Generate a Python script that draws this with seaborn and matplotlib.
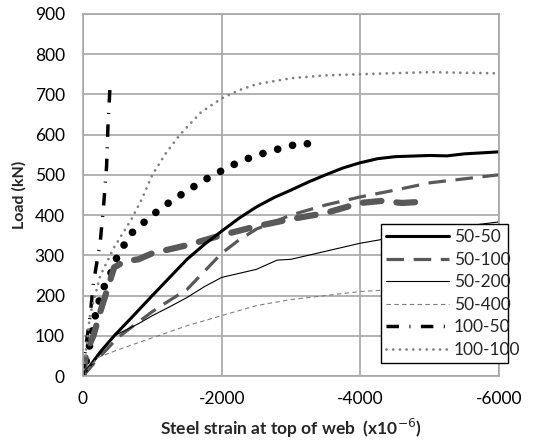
import matplotlib
matplotlib.use("Agg")
import matplotlib.pyplot as plt
import seaborn as sns
from matplotlib.lines import Line2D

# strain (x10^-6, compressive negative) and load (kN) per specimen
x_50_50 = [0, -100, -250, -450, -700, -1000, -1250, -1500, -1750, -2000, -2250, -2500, -2750, -3000,
           -3250, -3500, -3750, -4000, -4250, -4500, -5000, -5250, -5500, -6000]
y_50_50 = [0, 25, 60, 100, 145, 200, 245, 290, 327, 360, 392, 420, 443, 462,
           482, 500, 517, 530, 540, 545, 548, 547, 552, 557]

x_50_100 = [0, -200, -500, -750, -1000, -1250, -1500, -1750, -2000, -2250, -2500, -3000, -3500, -4000,
            -4500, -5000, -5500, -6000]
y_50_100 = [0, 40, 95, 128, 160, 188, 215, 260, 305, 338, 365, 400, 425, 445, 462, 480, 490, 500]

x_50_200 = [0, -450, -800, -1000, -1250, -1500, -1750, -2000, -2500, -2800, -3000, -3500, -4000,
            -4500, -5000, -5500, -6000]
y_50_200 = [0, 100, 130, 150, 172, 195, 222, 245, 265, 288, 290, 310, 330, 345, 360, 372, 383]

x_50_400 = [0, -200, -500, -1000, -1500, -2000, -2500, -3000, -3500, -4000, -4500, -5000, -6000]
y_50_400 = [0, 45, 65, 95, 125, 150, 175, 190, 200, 210, 215, 220, 230]

x_100_50 = [0, -30, -100, -150, -250, -300, -340, -360, -390]
y_100_50 = [0, 60, 145, 230, 335, 430, 520, 620, 720]

x_100_100 = [0, -100, -250, -450, -700, -850, -1000, -1200, -1400, -1700, -2000, -2250, -2500,
             -3000, -3500, -4000, -5000, -6000]
y_100_100 = [0, 150, 250, 320, 390, 440, 500, 555, 600, 655, 690, 710, 725, 740, 747, 750, 755, 752]

# two extra curves drawn without legend entries
x_dots = [0, -100, -200, -300, -400, -500, -700, -1000, -1250, -1500, -1750, -2000, -2250, -2500,
          -2750, -3000, -3150, -3300]
y_dots = [0, 80, 170, 220, 255, 300, 355, 400, 432, 460, 487, 510, 532, 548, 561, 572, 580, 575]

x_thick = [0, -50, -150, -250, -350, -450, -600, -800, -1000, -1500, -2000, -2500, -3000, -3500,
           -4000, -4300, -4600, -4800]
y_thick = [0, 60, 100, 160, 215, 270, 285, 290, 305, 325, 350, 372, 390, 405, 430, 435, 430, 432]

sns.set_style("white")
plt.rcParams['font.family'] = ['Lato', 'DejaVu Sans']
plt.rcParams['axes.unicode_minus'] = False

fig = plt.figure(figsize=(5.46, 4.45), dpi=100)
ax = fig.add_axes([0.152, 0.155, 0.762, 0.814])

grey_dark = '#595959'
grey_mid = '#808080'

sns.lineplot(x=x_dots, y=y_dots, ax=ax, sort=False, estimator=None, color='black',
             linewidth=5.5, linestyle=(0, (0.01, 2.0)), dash_capstyle='round')
sns.lineplot(x=x_thick, y=y_thick, ax=ax, sort=False, estimator=None, color=grey_dark,
             linewidth=4.5, linestyle=(0, (3.0, 2.4)), dash_capstyle='round')

styles = [
    ('50-50', x_50_50, y_50_50, dict(color='black', linewidth=2.2, linestyle='-')),
    ('50-100', x_50_100, y_50_100, dict(color=grey_dark, linewidth=2.3, linestyle=(0, (5.5, 3.0)))),
    ('50-200', x_50_200, y_50_200, dict(color='black', linewidth=0.8, linestyle='-')),
    ('50-400', x_50_400, y_50_400, dict(color=grey_mid, linewidth=0.8, linestyle=(0, (4, 3)))),
    ('100-50', x_100_50, y_100_50, dict(color='black', linewidth=2.5, linestyle=(0, (3.6, 3.0, 0.3, 3.0)))),
    ('100-100', x_100_100, y_100_100, dict(color=grey_mid, linewidth=2.0, linestyle=(0, (0.01, 2.4)), dash_capstyle='round')),
]

handles = []
for name, xs, ys, kw in styles:
    sns.lineplot(x=xs, y=ys, ax=ax, sort=False, estimator=None, **kw)
    handles.append(Line2D([], [], **kw))

ax.set_xlim(0, -6000)
ax.set_ylim(0, 900)
ax.set_xticks([0, -2000, -4000, -6000])
ax.set_yticks(range(0, 901, 100))
ax.grid(True, color='#a6a6a6', linewidth=1.2)
for s in ax.spines.values():
    s.set_color('#a6a6a6')
    s.set_linewidth(1.2)
ax.tick_params(axis='both', length=0, labelsize=12.5, colors='black')
ax.tick_params(axis='x', pad=11)
ax.tick_params(axis='y', pad=13)

ax.set_xlabel(r'Steel strain at top of web  (x10$^{-6}$)', fontsize=12.5, fontweight='bold', labelpad=7)
ax.set_ylabel('Load (kN)', fontsize=11.5, fontweight='bold', labelpad=6)

leg = ax.legend(handles, [s[0] for s in styles], loc='upper left', bbox_to_anchor=(0.716, 0.03, 0.305, 0.39),
                mode='expand', fontsize=12.5, handlelength=3.6, handletextpad=0.3, labelspacing=0.38,
                borderpad=0.3, borderaxespad=0, fancybox=False, framealpha=1, edgecolor='black')
leg.get_frame().set_linewidth(1.0)

fig.savefig('out.png', dpi=100)
